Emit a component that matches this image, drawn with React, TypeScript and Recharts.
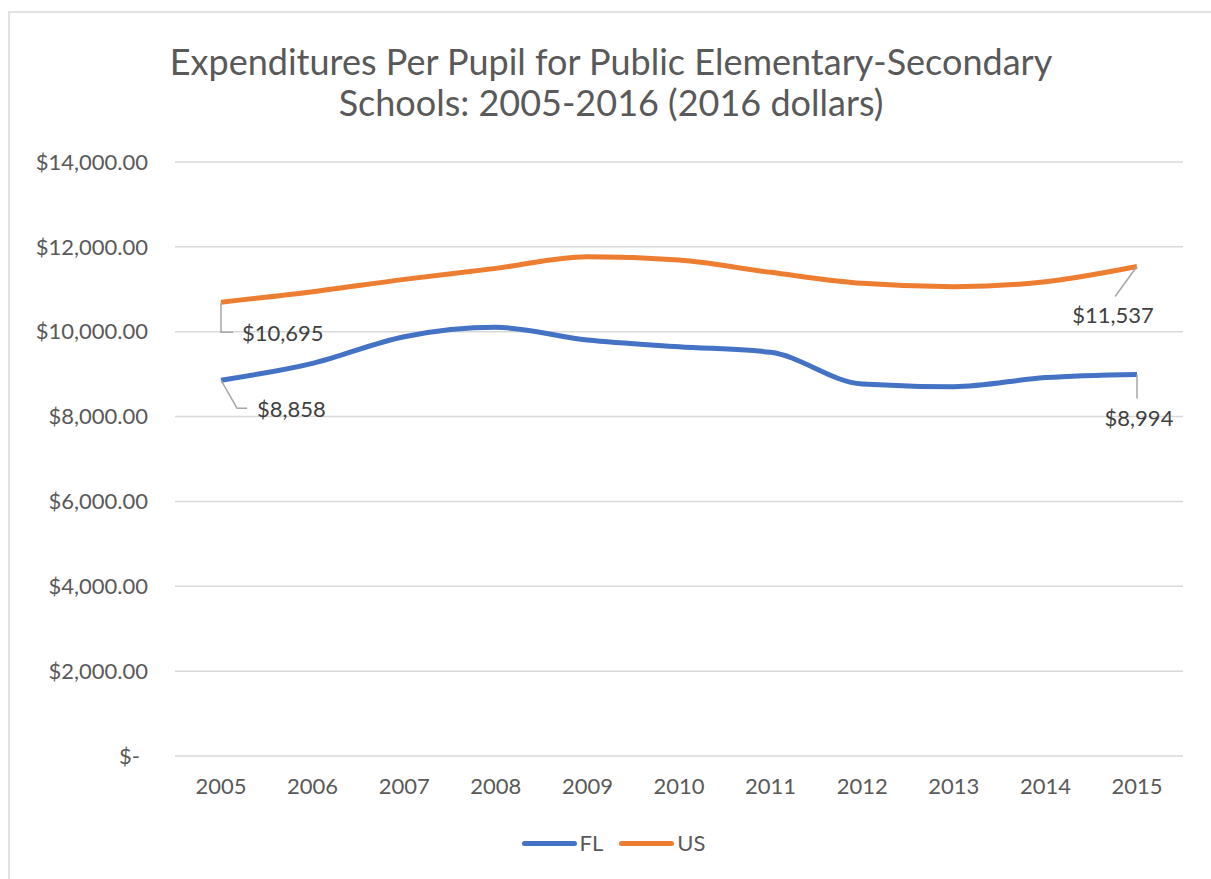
import { LineChart, Line, XAxis, YAxis, CartesianGrid, LabelList } from "recharts"

// years on the x axis
const years = ["2005", "2006", "2007", "2008", "2009", "2010", "2011", "2012", "2013", "2014", "2015"]

// expenditures per pupil, 2016 dollars
const flValues = [8858, 9255, 9883, 10103, 9804, 9647, 9514, 8767, 8704, 8920, 8994]
const usValues = [10695, 10943, 11234, 11493, 11768, 11690, 11400, 11140, 11061, 11179, 11537]

const yTicks = [0, 2000, 4000, 6000, 8000, 10000, 12000, 14000]

const data = years.map((year, i) => ({ year, FL: flValues[i], US: usValues[i] }))

const FONT = "Lato, 'Open Sans', sans-serif"
const BLUE = "#4472C4"
const ORANGE = "#ED7D31"
const TEXT = "#595959"
const LEADER = "#a6a6a6"

const money = (v: number) => "$" + v.toLocaleString("en-US")

const fmtTick = (v: number) =>
  v === 0 ? "$-" : "$" + v.toLocaleString("en-US", { minimumFractionDigits: 2, maximumFractionDigits: 2 })

const YTick = (props: any) => {
  const { x, y, payload } = props
  const shift = payload.value === 0 ? -8 : 0
  return (
    <text x={x + shift} y={y} dy="0.35em" textAnchor="end" fill={TEXT} fontSize={22} fontFamily={FONT}>
      {fmtTick(payload.value)}
    </text>
  )
}

// callout labels for first and last points only
const makeLabel = (series: "FL" | "US") => (props: any) => {
  const { x, y, index, value } = props
  const last = years.length - 1
  if (index !== 0 && index !== last) return null
  const txt = money(Number(value))
  const style = { fill: "#404040", fontSize: 22, fontFamily: FONT }
  if (series === "US" && index === 0) {
    return (
      <g>
        <polyline points={`${x},${y} ${x},${y + 30} ${x + 12},${y + 30}`} fill="none" stroke={LEADER} strokeWidth={1.5} />
        <text x={x + 21} y={y + 31} dy="0.35em" textAnchor="start" {...style}>{txt}</text>
      </g>
    )
  }
  if (series === "FL" && index === 0) {
    return (
      <g>
        <polyline points={`${x},${y} ${x + 16},${y + 28} ${x + 26},${y + 28}`} fill="none" stroke={LEADER} strokeWidth={1.5} />
        <text x={x + 36} y={y + 29} dy="0.35em" textAnchor="start" {...style}>{txt}</text>
      </g>
    )
  }
  if (series === "US") {
    return (
      <g>
        <line x1={x} y1={y} x2={x - 22} y2={y + 30} stroke={LEADER} strokeWidth={1.5} />
        <text x={x - 24} y={y + 49} dy="0.35em" textAnchor="middle" {...style}>{txt}</text>
      </g>
    )
  }
  return (
    <g>
      <line x1={x} y1={y} x2={x} y2={y + 24} stroke={LEADER} strokeWidth={1.5} />
      <text x={x + 2} y={y + 44} dy="0.35em" textAnchor="middle" {...style}>{txt}</text>
    </g>
  )
}

export default function App() {
  return (
    <div style={{ position: "absolute", left: 0, top: 0, width: 1211, height: 879, overflow: "hidden", background: "#fff" }}>
      <div
        style={{
          position: "absolute",
          left: 8,
          top: 11,
          width: 1400,
          height: 1000,
          borderLeft: "2px solid #e2e2e2",
          borderTop: "2px solid #e2e2e2",
        }}
      />
      <div
        style={{
          position: "absolute",
          left: 11,
          top: 41,
          width: 1200,
          textAlign: "center",
          fontFamily: FONT,
          fontSize: 36,
          lineHeight: "41px",
          color: TEXT,
        }}
      >
        Expenditures Per Pupil for Public Elementary-Secondary
        <br />
        Schools: 2005-2016 (2016 dollars)
      </div>
      <div style={{ position: "absolute", left: 0, top: 0 }}>
        <LineChart width={1211} height={879} data={data} margin={{ top: 162, right: 28, bottom: 93, left: 0 }}>
          <CartesianGrid horizontal vertical={false} stroke="#d9d9d9" strokeWidth={1.5} />
          <XAxis
            dataKey="year"
            axisLine={false}
            tickLine={false}
            tickSize={0}
            tickMargin={22}
            padding={{ left: 46, right: 46 }}
            tick={{ fill: TEXT, fontSize: 22, fontFamily: FONT }}
          />
          <YAxis
            width={175}
            domain={[0, 14000]}
            ticks={yTicks}
            interval={0}
            axisLine={false}
            tickLine={false}
            tickSize={0}
            tickMargin={27}
            tick={<YTick />}
          />
          <Line type="monotone" dataKey="FL" stroke={BLUE} strokeWidth={5} dot={false} isAnimationActive={false}>
            <LabelList dataKey="FL" content={makeLabel("FL")} />
          </Line>
          <Line type="monotone" dataKey="US" stroke={ORANGE} strokeWidth={5} dot={false} isAnimationActive={false}>
            <LabelList dataKey="US" content={makeLabel("US")} />
          </Line>
        </LineChart>
      </div>
      <div
        style={{
          position: "absolute",
          left: 0,
          top: 829,
          width: 1211,
          display: "flex",
          justifyContent: "center",
          paddingLeft: 32,
          boxSizing: "border-box",
          fontFamily: FONT,
          fontSize: 22,
          color: TEXT,
          lineHeight: "28px",
        }}
      >
        {[
          { name: "FL", color: BLUE },
          { name: "US", color: ORANGE },
        ].map((item) => (
          <div key={item.name} style={{ display: "flex", alignItems: "center", marginRight: 16 }}>
            <span style={{ width: 55, height: 5, borderRadius: 3, background: item.color, marginRight: 3 }} />
            <span>{item.name}</span>
          </div>
        ))}
      </div>
    </div>
  )
}
